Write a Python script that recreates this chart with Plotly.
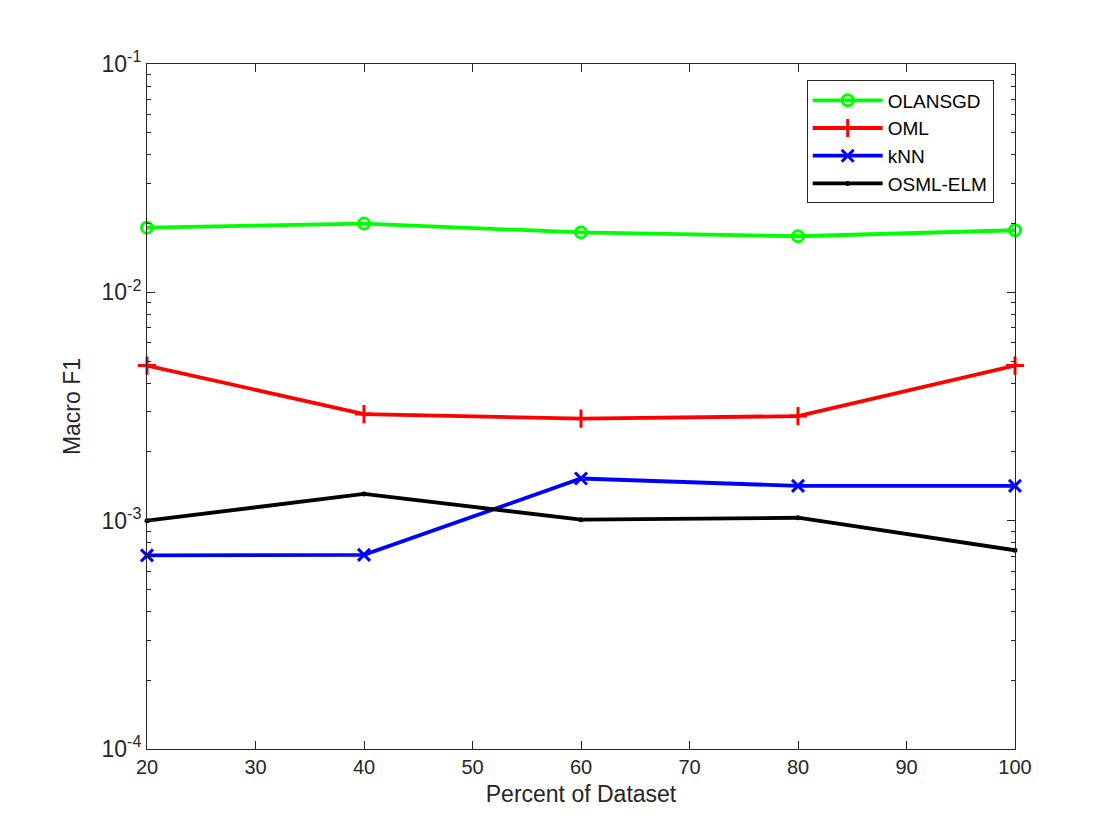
import plotly.graph_objects as go

percent = [20, 40, 60, 80, 100]
olansgd = [0.0192, 0.0200, 0.0183, 0.0176, 0.0187]
oml = [0.00478, 0.00293, 0.00280, 0.00287, 0.00478]
knn = [0.000705, 0.000708, 0.00153, 0.00142, 0.00142]
osml_elm = [0.00100, 0.00131, 0.00101, 0.00103, 0.000742]

y_major = [1e-4, 1e-3, 1e-2, 1e-1]
y_labels = ["10<sup>-4</sup>", "10<sup>-3</sup>", "10<sup>-2</sup>", "10<sup>-1</sup>"]
y_minor = [m * 10.0 ** e for e in (-4, -3, -2) for m in range(2, 10)]

font_family = "Liberation Sans, Arial, Helvetica, sans-serif"

fig = go.Figure()

series = [
    ("OLANSGD", olansgd, "#00ff00", "circle-open", 11),
    ("OML", oml, "#ff0000", "cross-thin-open", 13),
    ("kNN", knn, "#0000ff", "x-thin-open", 12),
    ("OSML-ELM", osml_elm, "#000000", "circle", 2),
]

for name, vals, color, symbol, size in series:
    fig.add_trace(go.Scatter(
        x=percent,
        y=vals,
        name=name,
        mode="lines+markers",
        line=dict(color=color, width=3.8),
        marker=dict(symbol=symbol, size=size, color=color,
                    line=dict(color=color, width=3)),
        cliponaxis=False,
    ))

axis_common = dict(
    showline=True,
    linecolor="#262626",
    linewidth=1,
    mirror="ticks",
    ticks="inside",
    ticklen=8,
    tickcolor="#262626",
    showgrid=False,
    zeroline=False,
)

fig.update_layout(
    width=1120,
    height=840,
    paper_bgcolor="white",
    plot_bgcolor="white",
    font=dict(family=font_family, color="#262626"),
    margin=dict(l=139, r=113, t=56, b=99),
    xaxis=dict(
        range=[20, 100],
        tickvals=[20, 30, 40, 50, 60, 70, 80, 90, 100],
        tickfont=dict(size=20, color="#262626", family=font_family),
        title=dict(text="Percent of Dataset", font=dict(size=23), standoff=8),
        **axis_common,
    ),
    yaxis=dict(
        type="log",
        range=[-4, -1],
        tickvals=y_major,
        ticktext=y_labels,
        tickfont=dict(size=23, color="#262626", family=font_family),
        title=dict(text="Macro F1", font=dict(size=23), standoff=14),
        minor=dict(tickmode="array", tickvals=y_minor, ticks="inside",
                   ticklen=4, tickcolor="#262626"),
        **axis_common,
    ),
    legend=dict(
        x=0.76, y=0.976,
        xanchor="left", yanchor="top",
        bgcolor="white",
        bordercolor="#262626",
        borderwidth=1,
        font=dict(size=19, color="#000000", family=font_family),
        tracegroupgap=0,
        itemwidth=70,
    ),
    showlegend=True,
)

fig.write_html("out.html")
